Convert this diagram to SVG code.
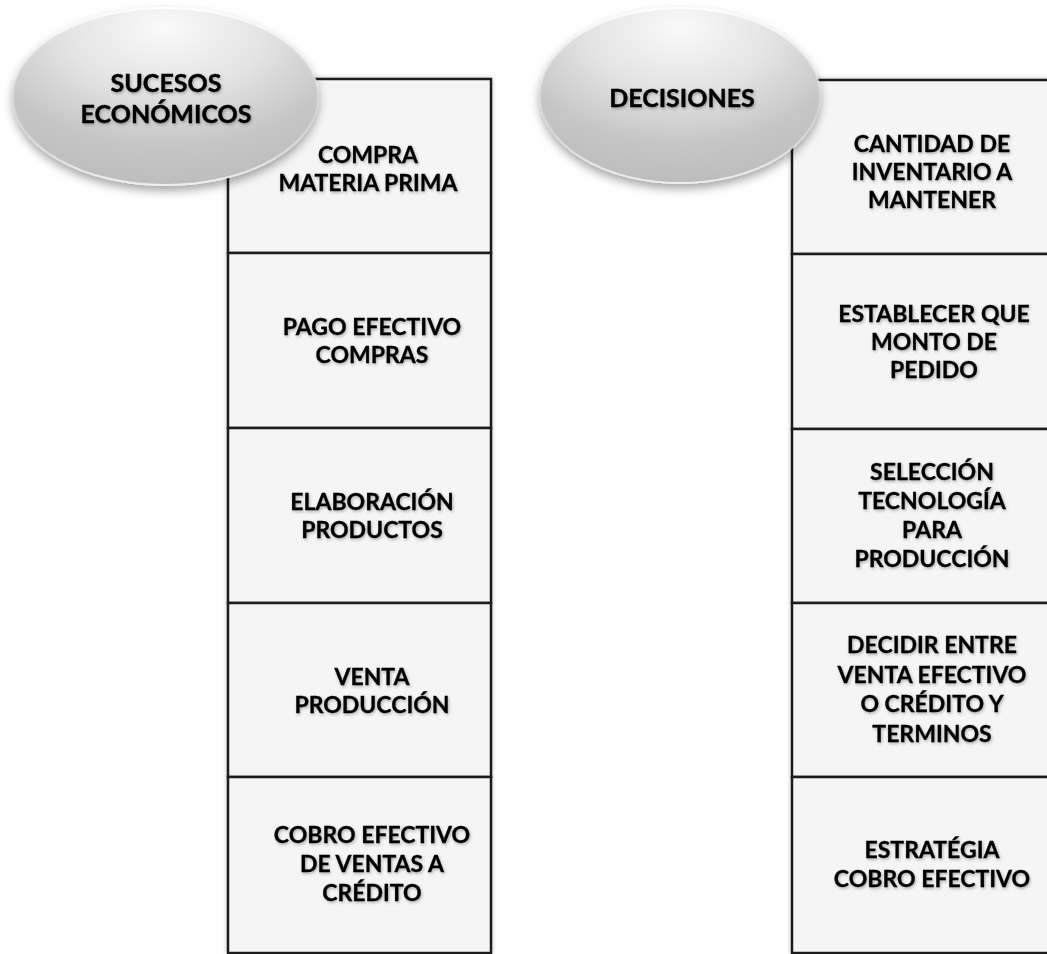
<svg xmlns="http://www.w3.org/2000/svg" width="1047" height="954" viewBox="0 0 1047 954">
<defs>
<radialGradient id="ellGrad" cx="50%" cy="20%" r="80%" fx="50%" fy="10%">
<stop offset="0" stop-color="#fafafa"/>
<stop offset="0.4" stop-color="#e4e4e4"/>
<stop offset="0.75" stop-color="#c6c6c6"/>
<stop offset="1" stop-color="#bdbdbd"/>
</radialGradient>
<linearGradient id="rimGrad" x1="0" y1="0" x2="0" y2="1">
<stop offset="0" stop-color="#ffffff" stop-opacity="0.9"/>
<stop offset="0.6" stop-color="#d0d0d0" stop-opacity="0.6"/>
<stop offset="1" stop-color="#f2f2f2" stop-opacity="0.9"/>
</linearGradient>
<filter id="ellShadow" x="-20%" y="-20%" width="140%" height="150%">
<feDropShadow dx="0" dy="5" stdDeviation="5" flood-color="#000" flood-opacity="0.35"/>
</filter>
<filter id="boxShadow" x="-5%" y="-5%" width="110%" height="110%">
<feDropShadow dx="0" dy="0" stdDeviation="2" flood-color="#000" flood-opacity="0.25"/>
</filter>
<filter id="txtShadow" x="-10%" y="-30%" width="120%" height="160%">
<feDropShadow dx="1" dy="1.5" stdDeviation="1.5" flood-color="#000" flood-opacity="0.3"/>
</filter>
</defs>
<style>
.box{fill:#f5f5f5;stroke:#1c1c1c;stroke-width:2.5}
.ell{fill:url(#ellGrad);stroke:url(#rimGrad);stroke-width:2}
.t{font-family:Lato,"Open Sans","Liberation Sans",sans-serif;font-weight:bold;font-size:23px;fill:#000;text-anchor:middle;stroke:#000;stroke-width:0.3}
.h{font-family:Lato,"Open Sans","Liberation Sans",sans-serif;font-weight:bold;font-size:25px;fill:#000;text-anchor:middle;stroke:#000;stroke-width:0.4}
</style>
<rect width="1047" height="954" fill="#ffffff"/>

<g id="left-column" filter="url(#boxShadow)">
<g id="compra-materia-prima">
<rect class="box" x="228" y="79" width="263" height="174"/>
<text class="t" filter="url(#txtShadow)"><tspan x="368" y="163">COMPRA</tspan><tspan x="368" y="191">MATERIA PRIMA</tspan></text>
</g>
<g id="pago-efectivo-compras">
<rect class="box" x="228" y="253" width="263" height="175"/>
<text class="t" filter="url(#txtShadow)"><tspan x="372" y="335">PAGO EFECTIVO</tspan><tspan x="372" y="363">COMPRAS</tspan></text>
</g>
<g id="elaboracion-productos">
<rect class="box" x="228" y="428" width="263" height="175"/>
<text class="t" filter="url(#txtShadow)"><tspan x="372" y="510">ELABORACIÓN</tspan><tspan x="372" y="538">PRODUCTOS</tspan></text>
</g>
<g id="venta-produccion">
<rect class="box" x="228" y="603" width="263" height="174"/>
<text class="t" filter="url(#txtShadow)"><tspan x="372" y="685">VENTA</tspan><tspan x="372" y="713">PRODUCCIÓN</tspan></text>
</g>
<g id="cobro-efectivo">
<rect class="box" x="228" y="777" width="263" height="176"/>
<text class="t" filter="url(#txtShadow)"><tspan x="372" y="843">COBRO EFECTIVO</tspan><tspan x="372" y="872">DE VENTAS A</tspan><tspan x="372" y="901">CRÉDITO</tspan></text>
</g>
</g>

<g id="right-column" filter="url(#boxShadow)">
<g id="cantidad-inventario">
<rect class="box" x="792" y="80" width="263" height="174"/>
<text class="t" filter="url(#txtShadow)"><tspan x="932" y="152">CANTIDAD DE</tspan><tspan x="932" y="180">INVENTARIO A</tspan><tspan x="932" y="208">MANTENER</tspan></text>
</g>
<g id="establecer-monto">
<rect class="box" x="792" y="254" width="263" height="175"/>
<text class="t" filter="url(#txtShadow)"><tspan x="934" y="322">ESTABLECER QUE</tspan><tspan x="934" y="350">MONTO DE</tspan><tspan x="934" y="378">PEDIDO</tspan></text>
</g>
<g id="seleccion-tecnologia">
<rect class="box" x="792" y="429" width="263" height="174"/>
<text class="t" filter="url(#txtShadow)"><tspan x="932" y="480">SELECCIÓN</tspan><tspan x="932" y="509">TECNOLOGÍA</tspan><tspan x="932" y="538">PARA</tspan><tspan x="932" y="567">PRODUCCIÓN</tspan></text>
</g>
<g id="decidir-venta">
<rect class="box" x="792" y="603" width="263" height="174"/>
<text class="t" filter="url(#txtShadow)"><tspan x="932" y="653">DECIDIR ENTRE</tspan><tspan x="932" y="683">VENTA EFECTIVO</tspan><tspan x="932" y="712">O CRÉDITO Y</tspan><tspan x="932" y="742">TERMINOS</tspan></text>
</g>
<g id="estrategia-cobro">
<rect class="box" x="792" y="777" width="263" height="176"/>
<text class="t" filter="url(#txtShadow)"><tspan x="932" y="858">ESTRATÉGIA</tspan><tspan x="932" y="887">COBRO EFECTIVO</tspan></text>
</g>
</g>

<g id="sucesos-economicos">
<ellipse class="ell" cx="165.5" cy="96.5" rx="152.5" ry="88.5" filter="url(#ellShadow)"/>
<text class="h" filter="url(#txtShadow)"><tspan x="166" y="92">SUCESOS</tspan><tspan x="166" y="123">ECONÓMICOS</tspan></text>
</g>
<g id="decisiones">
<ellipse class="ell" cx="680" cy="95.5" rx="140" ry="87.5" filter="url(#ellShadow)"/>
<text class="h" filter="url(#txtShadow)"><tspan x="682" y="107">DECISIONES</tspan></text>
</g>
</svg>
